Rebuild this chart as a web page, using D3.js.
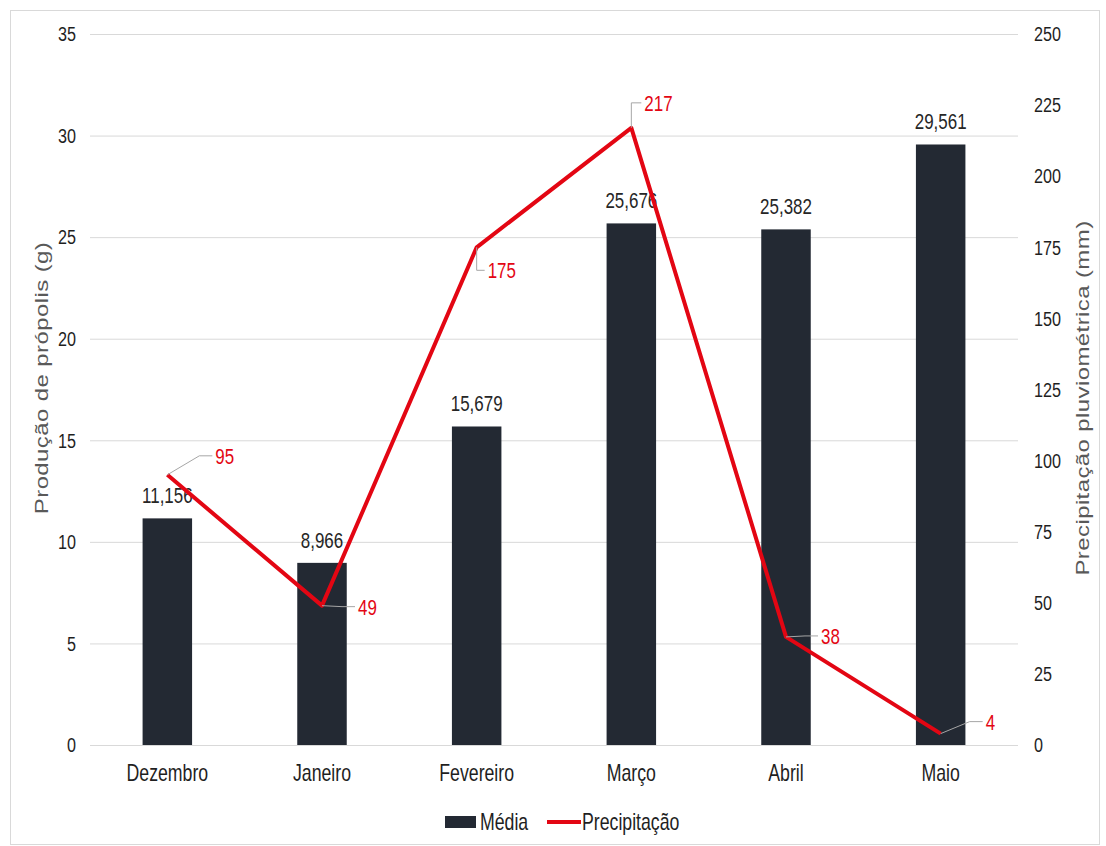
<!DOCTYPE html>
<html>
<head>
<meta charset="utf-8">
<script src="https://cdn.jsdelivr.net/npm/d3@7"></script>
<style>
  body { margin: 0; background: #fff; }
  svg { font-family: "Liberation Sans", Arial, sans-serif; }
  /* condensed lettering, anchored on the side the text aligns to */
  text.nl { transform-box: fill-box; transform-origin: left center; transform: scaleX(0.77); }
  text.nc { transform-box: fill-box; transform-origin: center center; transform: scaleX(0.77); }
  text.nr { transform-box: fill-box; transform-origin: right center; transform: scaleX(0.77); }
</style>
</head>
<body>
<svg id="chart" width="1106" height="846"></svg>
<script>
// Monthly propolis production (bars) and rainfall (line)
const months = ["Dezembro", "Janeiro", "Fevereiro", "Março", "Abril", "Maio"];
const producao = [11.156, 8.966, 15.679, 25.676, 25.382, 29.561];
const precipitacao = [95, 49, 175, 217, 38, 4];
const leftTicks = [0, 5, 10, 15, 20, 25, 30, 35];
const rightTicks = [0, 25, 50, 75, 100, 125, 150, 175, 200, 225, 250];

const svg = d3.select("#chart");
const plot = { left: 90, right: 1018, top: 34, bottom: 745 };
const red = "#e30613";
const ink = "#1f1f1f";

// frame
svg.append("rect").attr("x", 10.5).attr("y", 10.5).attr("width", 1089).attr("height", 834)
  .attr("fill", "#fff").attr("stroke", "#d9d9d9").attr("stroke-width", 1);

const x = d3.scaleBand().domain(months).range([plot.left, plot.right])
  .paddingInner(0.68).paddingOuter(0.34);
const yL = d3.scaleLinear().domain([0, 35]).range([plot.bottom, plot.top]);
const yR = d3.scaleLinear().domain([0, 250]).range([plot.bottom, plot.top]);

// gridlines
svg.append("g").selectAll("line").data(leftTicks.filter(d => d > 0)).join("line")
  .attr("x1", plot.left).attr("x2", plot.right)
  .attr("y1", d => yL(d) + 0.5).attr("y2", d => yL(d) + 0.5)
  .attr("stroke", "#d9d9d9").attr("stroke-width", 1);

// left axis
const axL = svg.append("g").attr("transform", `translate(${plot.left - 14},0)`)
  .call(d3.axisLeft(yL).tickValues(leftTicks).tickSize(0).tickPadding(0));
axL.select(".domain").remove();
axL.selectAll("text").attr("class", "nr").attr("font-size", 21).attr("fill", ink)
  .attr("font-family", "'Liberation Sans', Arial, sans-serif");

// right axis
const axR = svg.append("g").attr("transform", `translate(${plot.right + 16},0)`)
  .call(d3.axisRight(yR).tickValues(rightTicks).tickSize(0).tickPadding(0));
axR.select(".domain").remove();
axR.selectAll("text").attr("class", "nl").attr("font-size", 21).attr("fill", ink)
  .attr("font-family", "'Liberation Sans', Arial, sans-serif");

// bars
svg.append("g").selectAll("rect").data(months).join("rect")
  .attr("x", d => x(d)).attr("width", x.bandwidth())
  .attr("y", (d, i) => yL(producao[i]))
  .attr("height", (d, i) => yL(0) - yL(producao[i]))
  .attr("fill", "#232933");

// baseline
svg.append("line").attr("x1", plot.left).attr("x2", plot.right)
  .attr("y1", plot.bottom + 0.5).attr("y2", plot.bottom + 0.5)
  .attr("stroke", "#d9d9d9").attr("stroke-width", 1);

// x axis labels
const axB = svg.append("g").attr("transform", `translate(0,${plot.bottom + 20})`)
  .call(d3.axisBottom(x).tickSize(0).tickPadding(0));
axB.select(".domain").remove();
axB.selectAll("text").attr("class", "nc").attr("font-size", 23).attr("fill", ink)
  .attr("font-family", "'Liberation Sans', Arial, sans-serif");

// bar value labels
svg.append("g").selectAll("text").data(months).join("text")
  .attr("class", "nc")
  .attr("x", d => x(d) + x.bandwidth() / 2)
  .attr("y", (d, i) => yL(producao[i]) - 15)
  .attr("text-anchor", "middle").attr("font-size", 22).attr("fill", "#262626")
  .text((d, i) => producao[i].toFixed(3).replace(".", ","));

// rainfall line
const cx = d => x(d) + x.bandwidth() / 2;
const line = d3.line().x(d => cx(d)).y((d, i) => yR(precipitacao[i]));
svg.append("path").datum(months).attr("d", line)
  .attr("fill", "none").attr("stroke", red).attr("stroke-width", 4)
  .attr("stroke-linejoin", "round");

// line value labels with leader lines (offsets from each point)
const labelOffsets = [[48, -19], [36, 1], [11, 23], [13, -25], [35, -1], [45, -12]];
const lbl = svg.append("g");
months.forEach((m, i) => {
  const px = cx(m), py = yR(precipitacao[i]);
  const [dx, dy] = labelOffsets[i];
  const lx = px + dx, ly = py + dy;
  let pts;
  if (i === 2 || i === 3) pts = [[px, py], [px, ly], [lx - 3, ly]];
  else pts = [[px, py], [lx - 16, ly], [lx - 3, ly]];
  lbl.append("path").attr("d", d3.line()(pts))
    .attr("fill", "none").attr("stroke", "#a6a6a6").attr("stroke-width", 1);
  lbl.append("text").attr("class", "nl").attr("x", lx).attr("y", ly).attr("dy", "0.36em")
    .attr("font-size", 22).attr("fill", red).text(precipitacao[i]);
});

// axis titles (rotated, glyph height squeezed to match the condensed lettering)
svg.append("text").attr("transform", "translate(48,378) rotate(-90) scale(1,0.78)")
  .attr("text-anchor", "middle").attr("font-size", 24).attr("fill", "#595959")
  .attr("letter-spacing", "0.4").text("Produção de própolis (g)");
svg.append("text").attr("transform", "translate(1089,398) rotate(-90) scale(1,0.78)")
  .attr("text-anchor", "middle").attr("font-size", 24).attr("fill", "#595959")
  .attr("letter-spacing", "0.4").text("Precipitação pluviométrica (mm)");

// legend
const lg = svg.append("g").attr("transform", "translate(445,822)");
lg.append("rect").attr("x", 0).attr("y", -6).attr("width", 31).attr("height", 12).attr("fill", "#232933");
lg.append("text").attr("class", "nl").attr("x", 35).attr("y", 0).attr("dy", "0.36em").attr("font-size", 23)
  .attr("fill", ink).text("Média");
lg.append("line").attr("x1", 102).attr("x2", 136).attr("y1", 0).attr("y2", 0)
  .attr("stroke", red).attr("stroke-width", 4);
lg.append("text").attr("class", "nl").attr("x", 137).attr("y", 0).attr("dy", "0.36em").attr("font-size", 23)
  .attr("fill", ink).text("Precipitação");
</script>
</body>
</html>
